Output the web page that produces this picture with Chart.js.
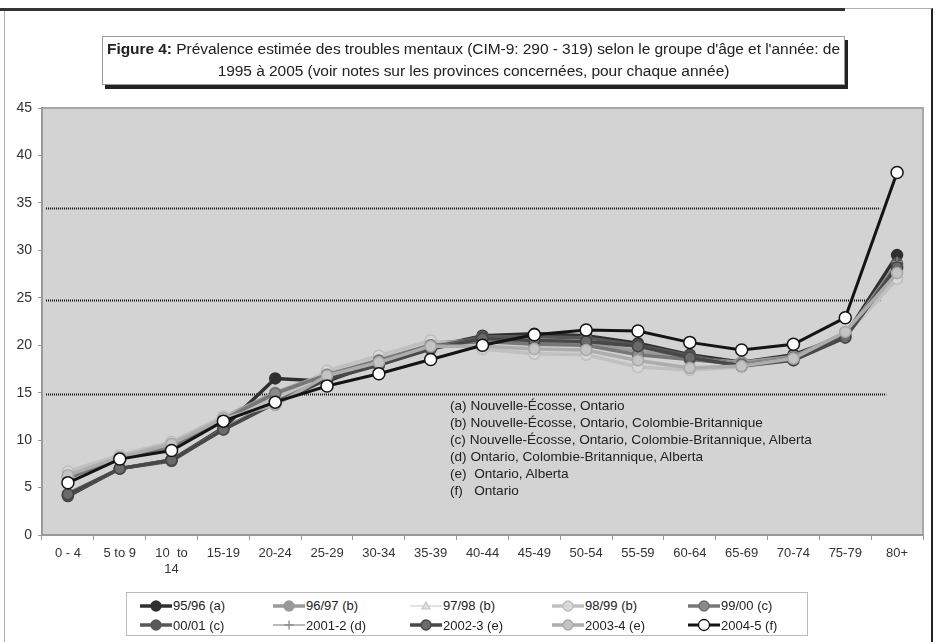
<!DOCTYPE html>
<html>
<head>
<meta charset="utf-8">
<script src="https://cdn.jsdelivr.net/npm/chart.js@4.4.1/dist/chart.umd.min.js"></script>
<style>
  body { margin: 0; background: #fff; font-family: "Liberation Sans", Arial, sans-serif; }
  #wrap { position: relative; width: 935px; height: 642px; overflow: hidden; }
  #frame { position: absolute; left: 4px; top: 8px; width: 926px; height: 640px;
           border-left: 1px solid #b0b0b0; border-top: 1px solid #b0b0b0; border-right: 2px solid #222; }
  #topbar { position: absolute; left: 0; top: 8px; width: 845px; height: 3px; background: #333; }
  #title { position: absolute; left: 102px; top: 36px; width: 741px; height: 46px;
           border: 1px solid #999; background: #fff; box-shadow: 3px 4px 0 #222;
           font-size: 15.5px; color: #222; text-align: center; line-height: 22px; padding-top: 1px;
           letter-spacing: -0.05px; white-space: nowrap; }
  #title b { font-weight: bold; }
  #notes { position: absolute; left: 450px; top: 397px; font-size: 13.6px; color: #222; line-height: 17px; }
  #legend { position: absolute; left: 126px; top: 592px; width: 682px; height: 44px;
            border: 1px solid #bbb; background: #fff; display: grid;
            grid-template-columns: 133px 137px 142px 136px 1fr; padding: 3px 0 0 13px; box-sizing: border-box; }
  .item { display: flex; align-items: center; font-size: 13px; color: #222; height: 19px; }
  .item canvas { margin-right: 1px; }
  canvas#chart { position: absolute; left: 0; top: 0; }
</style>
</head>
<body>
<div id="wrap">
  <div id="frame"></div>
  <div id="topbar"></div>
  <canvas id="chart" width="935" height="642"></canvas>
  <div id="title"><b>Figure 4:</b> Prévalence estimée des troubles mentaux (CIM-9: 290 - 319) selon le groupe d'âge et l'année: de<br>1995 à 2005 (voir notes sur les provinces concernées, pour chaque année)</div>
  <div id="notes">
    (a) Nouvelle-Écosse, Ontario<br>
    (b) Nouvelle-Écosse, Ontario, Colombie-Britannique<br>
    (c) Nouvelle-Écosse, Ontario, Colombie-Britannique, Alberta<br>
    (d) Ontario, Colombie-Britannique, Alberta<br>
    (e)&nbsp; Ontario, Alberta<br>
    (f)&nbsp;&nbsp; Ontario
  </div>
  <div id="legend"></div>
</div>
<script>
const ageGroups = ['0 - 4', '5 to 9', ['10  to', '14'], '15-19', '20-24', '25-29', '30-34', '35-39',
    '40-44', '45-49', '50-54', '55-59', '60-64', '65-69', '70-74', '75-79', '80+'];

const seriesNames = ['95/96 (a)', '96/97 (b)', '97/98 (b)', '98/99 (b)', '99/00 (c)',
    '00/01 (c)', '2001-2 (d)', '2002-3 (e)', '2003-4 (e)', '2004-5 (f)'];

const s9596  = [4.1, 7.0, 7.9, 11.3, 16.5, 16.2, 18.2, 19.8, 21.0, 21.2, 21.0, 20.2, 19.0, 18.2, 19.0, 21.0, 29.5];
const s9697  = [6.2, 8.2, 9.5, 12.4, 15.0, 17.0, 18.6, 20.2, 20.6, 20.4, 20.2, 19.4, 18.6, 18.2, 18.8, 21.3, 28.0];
const s9798  = [6.4, 8.3, 9.6, 12.3, 14.7, 17.1, 18.7, 20.3, 20.2, 19.8, 19.6, 18.2, 17.8, 17.9, 18.6, 21.2, 27.4];
const s9899  = [6.7, 8.4, 9.8, 12.5, 14.3, 17.3, 18.9, 20.5, 19.6, 19.1, 19.0, 17.7, 17.4, 17.7, 18.5, 21.0, 27.0];
const s9900  = [6.0, 8.1, 9.3, 12.2, 14.9, 16.9, 18.4, 20.0, 20.4, 20.1, 20.0, 19.0, 18.5, 18.0, 18.7, 21.1, 28.3];
const s0001  = [4.2, 7.0, 7.8, 11.2, 14.0, 16.5, 18.1, 19.7, 20.9, 20.9, 20.8, 20.0, 18.9, 17.9, 18.6, 20.9, 28.6];
const s20012 = [4.5, 7.1, 8.0, 11.3, 14.1, 16.6, 18.0, 19.8, 20.8, 20.6, 20.5, 19.8, 18.8, 18.1, 18.8, 21.3, 28.8];
const s20023 = [4.3, 7.0, 7.9, 11.1, 13.9, 16.4, 17.9, 19.6, 20.7, 20.5, 20.4, 19.9, 18.7, 17.8, 18.4, 20.8, 28.2];
const s20034 = [6.3, 8.2, 9.6, 12.3, 13.7, 16.8, 18.2, 19.9, 19.9, 19.6, 19.5, 18.4, 17.6, 17.8, 18.6, 21.4, 27.6];
const s20045 = [5.5, 8.0, 8.9, 12.0, 14.0, 15.7, 17.0, 18.5, 20.0, 21.1, 21.6, 21.5, 20.3, 19.5, 20.1, 22.9, 38.2];

const seriesValues = [s9596, s9697, s9798, s9899, s9900, s0001, s20012, s20023, s20034, s20045];

// dotted reference lines drawn across the plot
const guideLevels = [34.5, 24.8, 14.9];

// line / marker look of each series (same order as seriesNames)
const seriesStyles = [
    { line: '#303030', fill: '#303030', edge: '#303030', width: 3.5, point: 'circle', r: 5.5 },
    { line: '#9a9a9a', fill: '#9a9a9a', edge: '#9a9a9a', width: 3.5, point: 'circle', r: 5.5 },
    { line: '#cfcfcf', fill: '#e0e0e0', edge: '#c8c8c8', width: 1.2, point: 'triangle', r: 4.5 },
    { line: '#c0c0c0', fill: '#d8d8d8', edge: '#bdbdbd', width: 3.5, point: 'circle', r: 5.5 },
    { line: '#777777', fill: '#8a8a8a', edge: '#6e6e6e', width: 3.5, point: 'circle', r: 5.5 },
    { line: '#585858', fill: '#585858', edge: '#585858', width: 3.5, point: 'circle', r: 5.5 },
    { line: '#8c8c8c', fill: '#8c8c8c', edge: '#8c8c8c', width: 1.2, point: 'cross', r: 5 },
    { line: '#484848', fill: '#6a6a6a', edge: '#444444', width: 3.5, point: 'circle', r: 5.5 },
    { line: '#adadad', fill: '#c4c4c4', edge: '#a8a8a8', width: 3.5, point: 'circle', r: 5.5 },
    { line: '#141414', fill: '#ffffff', edge: '#141414', width: 3, point: 'circle', r: 6 }
];

const plotBackground = {
    id: 'plotBackground',
    beforeDraw(chart) {
        const { ctx, chartArea: a } = chart;
        ctx.save();
        ctx.fillStyle = '#d3d3d3';
        ctx.fillRect(a.left, a.top, a.right - a.left, a.bottom - a.top);
        ctx.strokeStyle = '#a8a8a8';
        ctx.lineWidth = 2;
        ctx.beginPath();
        ctx.moveTo(a.left, a.top);
        ctx.lineTo(a.right, a.top);
        ctx.lineTo(a.right, a.bottom);
        ctx.stroke();
        ctx.restore();
    },
    beforeDatasetsDraw(chart) {
        const { ctx, chartArea: a, scales } = chart;
        const ends = [35, 35, 41];
        ctx.save();
        ctx.strokeStyle = '#111';
        ctx.lineWidth = 2;
        ctx.setLineDash([1, 1]);
        guideLevels.forEach((v, i) => {
            const y = Math.round(scales.y.getPixelForValue(v)) + 0.5;
            ctx.beginPath();
            ctx.moveTo(a.left + 4, y);
            ctx.lineTo(scales.x.getPixelForValue(15) + ends[i], y);
            ctx.stroke();
        });
        ctx.restore();
    }
};

const datasets = seriesNames.map((name, i) => {
    const st = seriesStyles[i];
    return {
        label: name,
        data: seriesValues[i],
        borderColor: st.line,
        borderWidth: st.width,
        pointStyle: st.point,
        pointRadius: st.r,
        pointBackgroundColor: st.fill,
        pointBorderColor: st.edge,
        pointBorderWidth: st.point === 'cross' ? 1.2 : 1.5,
        tension: 0,
        fill: false,
        order: seriesNames.length - i
    };
});

const ctx = document.getElementById('chart').getContext('2d');
const chart = new Chart(ctx, {
    type: 'line',
    data: { labels: ageGroups, datasets: datasets },
    options: {
        responsive: false,
        animation: false,
        layout: { padding: { left: 0, right: 12, top: 108, bottom: 65 } },
        plugins: { legend: { display: false }, tooltip: { enabled: false } },
        scales: {
            x: {
                offset: true,
                grid: { drawOnChartArea: false, offset: true, tickLength: 5, color: '#999' },
                border: { color: '#999', width: 2 },
                ticks: { color: '#333', font: { family: 'Liberation Sans', size: 13 }, padding: 6,
                         maxRotation: 0, autoSkip: false },
                afterFit: s => { s.height = 42; }
            },
            y: {
                min: 0,
                max: 45,
                grid: { drawOnChartArea: false, tickLength: 4, color: '#999' },
                border: { color: '#999', width: 2 },
                ticks: { stepSize: 5, color: '#333', font: { family: 'Liberation Sans', size: 14 }, padding: 6 },
                afterFit: s => { s.width = 42; }
            }
        }
    },
    plugins: [plotBackground]
});

// legend built from the datasets
function drawSample(c, ds) {
    const g = c.getContext('2d');
    const cy = c.height / 2;
    g.strokeStyle = ds.borderColor;
    g.lineWidth = ds.borderWidth;
    g.beginPath(); g.moveTo(0, cy); g.lineTo(c.width, cy); g.stroke();
    const cx = c.width / 2, r = ds.pointRadius - 0.5;
    g.fillStyle = ds.pointBackgroundColor;
    g.strokeStyle = ds.pointBorderColor;
    g.lineWidth = 1.3;
    g.beginPath();
    if (ds.pointStyle === 'triangle') {
        g.moveTo(cx, cy - r); g.lineTo(cx + r, cy + r * 0.7); g.lineTo(cx - r, cy + r * 0.7); g.closePath();
        g.fill(); g.stroke();
    } else if (ds.pointStyle === 'cross') {
        g.moveTo(cx - r, cy); g.lineTo(cx + r, cy); g.moveTo(cx, cy - r); g.lineTo(cx, cy + r);
        g.stroke();
    } else {
        g.arc(cx, cy, r, 0, Math.PI * 2);
        g.fill(); g.stroke();
    }
}

const legend = document.getElementById('legend');
chart.data.datasets.forEach(ds => {
    const item = document.createElement('div');
    item.className = 'item';
    const c = document.createElement('canvas');
    c.width = 32; c.height = 14;
    drawSample(c, ds);
    item.appendChild(c);
    const t = document.createElement('span');
    t.textContent = ds.label;
    item.appendChild(t);
    legend.appendChild(item);
});
</script>
</body>
</html>
